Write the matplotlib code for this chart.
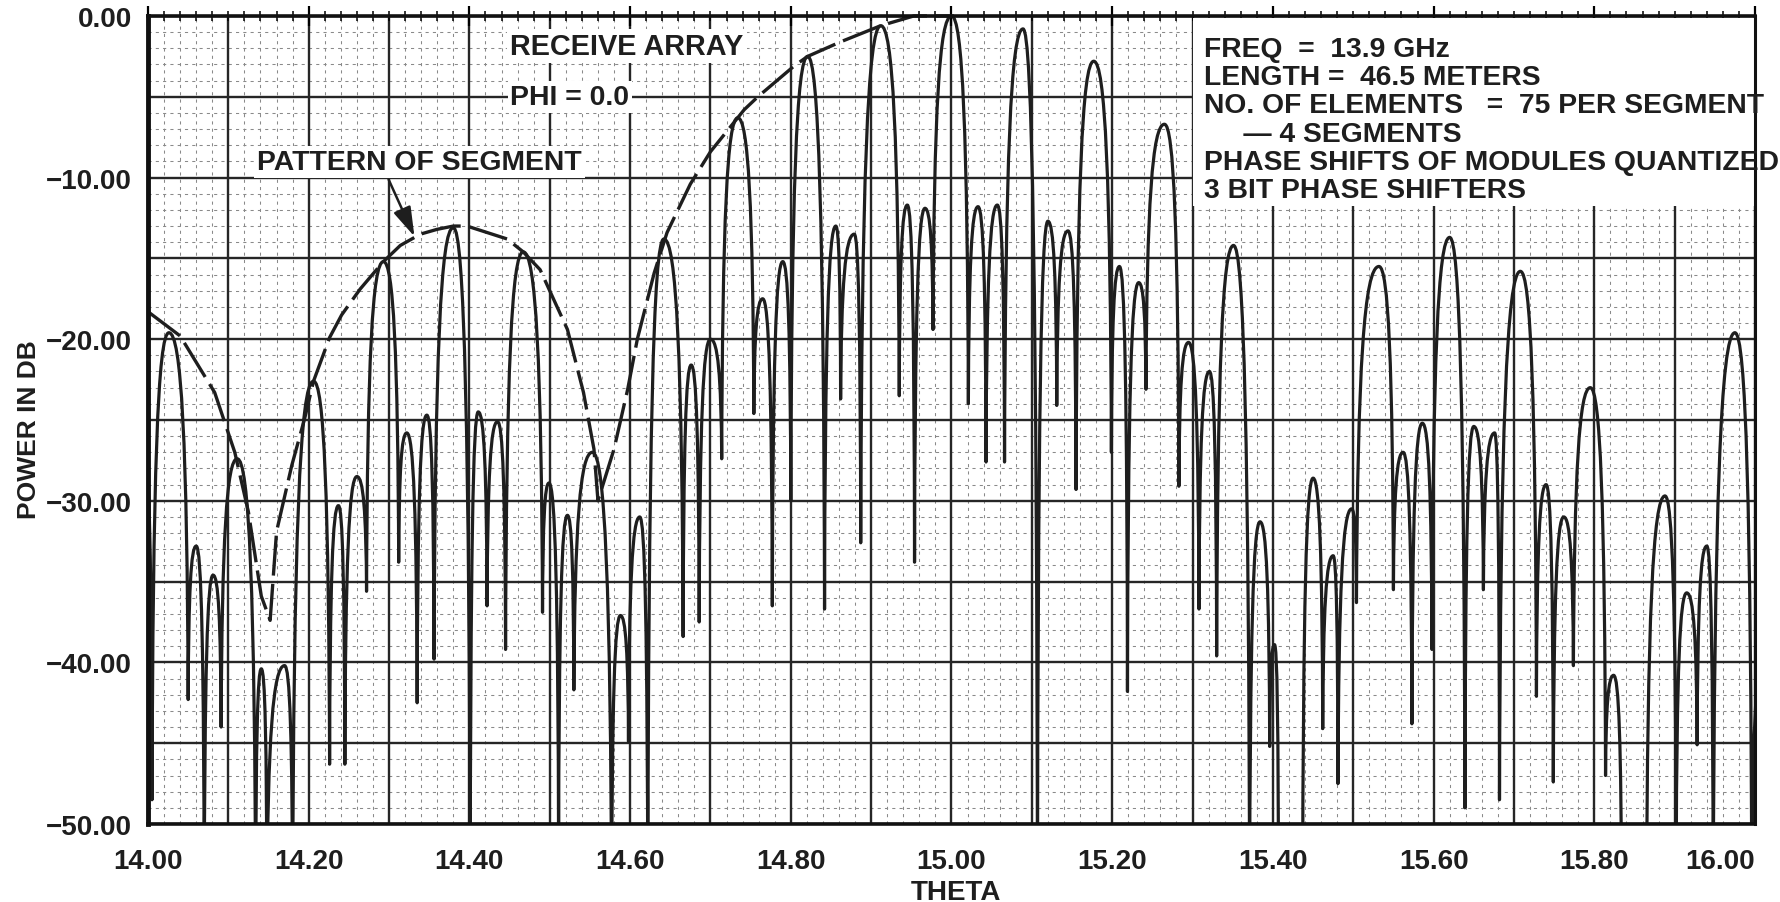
import numpy as np
import matplotlib
matplotlib.use('Agg')
import matplotlib.pyplot as plt
from matplotlib.path import Path
from matplotlib.patches import PathPatch, Rectangle
from matplotlib.ticker import FuncFormatter, MultipleLocator

plt.rcParams['font.family'] = ['Liberation Sans', 'DejaVu Sans']

# lobe peaks and nulls (alternating max / min), theta in deg, power in dB
lobe_theta = [13.995, 14.005, 14.026, 14.050, 14.060, 14.070, 14.081, 14.091,
              14.111, 14.134, 14.141, 14.148, 14.170, 14.180,
              14.206, 14.226, 14.237, 14.245, 14.260, 14.272,
              14.293, 14.312, 14.322, 14.335, 14.347, 14.356,
              14.380, 14.401, 14.411, 14.422, 14.435, 14.445,
              14.467, 14.491, 14.499, 14.511, 14.522, 14.530,
              14.553, 14.577, 14.588, 14.598, 14.612, 14.622,
              14.642, 14.666, 14.676, 14.686, 14.700, 14.714,
              14.734, 14.754, 14.765, 14.777, 14.790, 14.800,
              14.821, 14.842, 14.856, 14.862, 14.879, 14.887,
              14.912, 14.935, 14.945, 14.954, 14.967, 14.977,
              15.000, 15.021, 15.033, 15.043, 15.057, 15.066,
              15.089, 15.107, 15.120, 15.131, 15.145, 15.155,
              15.177, 15.199, 15.209, 15.219, 15.233, 15.242,
              15.265, 15.283, 15.295, 15.308, 15.321, 15.330,
              15.351, 15.371, 15.384, 15.396, 15.402, 15.407, 15.421, 15.437,
              15.450, 15.462, 15.475, 15.481, 15.498, 15.504,
              15.532, 15.550, 15.562, 15.573, 15.586, 15.598,
              15.620, 15.639, 15.650, 15.662, 15.676, 15.682,
              15.708, 15.728, 15.740, 15.749, 15.762, 15.774,
              15.795, 15.814, 15.824, 15.834, 15.850, 15.865,
              15.888, 15.902, 15.915, 15.928, 15.940, 15.948,
              15.975, 15.996, 16.010]
lobe_db = [-27.0, -48.5, -19.6, -42.3, -32.8, -55.0, -34.6, -44.0,
           -27.4, -55.0, -40.4, -55.0, -40.2, -55.0,
           -22.6, -46.3, -30.3, -46.3, -28.5, -35.6,
           -15.2, -33.8, -25.8, -42.5, -24.7, -39.8,
           -13.1, -55.0, -24.5, -36.5, -25.1, -39.2,
           -14.6, -36.9, -28.9, -52.0, -30.9, -41.7,
           -27.0, -55.0, -37.1, -44.9, -31.0, -55.0,
           -13.8, -38.4, -21.6, -37.5, -20.0, -27.4,
           -6.3, -24.6, -17.5, -36.5, -15.2, -30.0,
           -2.5, -36.7, -13.0, -23.7, -13.5, -32.6,
           -0.6, -23.5, -11.7, -33.8, -11.9, -19.4,
           0.0, -24.0, -11.8, -27.6, -11.7, -27.6,
           -0.8, -55.0, -12.7, -24.1, -13.3, -29.3,
           -2.8, -27.0, -15.5, -41.8, -16.5, -23.1,
           -6.7, -29.1, -20.2, -36.7, -22.0, -39.6,
           -14.2, -55.0, -31.3, -45.2, -38.9, -55.0, -53.0, -55.0,
           -28.6, -44.1, -33.4, -47.5, -30.5, -36.3,
           -15.5, -35.5, -27.0, -43.8, -25.2, -39.2,
           -13.7, -49.0, -25.4, -35.5, -25.8, -48.5,
           -15.8, -42.1, -29.0, -47.4, -31.0, -40.2,
           -23.0, -47.0, -40.8, -55.0, -53.0, -55.0,
           -29.7, -52.0, -35.7, -45.1, -32.8, -55.0,
           -19.6, -55.0, -40.0]

# dashed "pattern of segment" curve
seg_theta = [14.000, 14.040, 14.083, 14.108, 14.125, 14.141, 14.152, 14.160, 14.179,
             14.195, 14.206, 14.226, 14.241, 14.264, 14.293, 14.314, 14.339, 14.360,
             14.380, 14.397, 14.422, 14.447, 14.467, 14.488, 14.522, 14.542, 14.555,
             14.560, 14.580, 14.597, 14.609, 14.630, 14.646, 14.675, 14.700, 14.742,
             14.759, 14.804, 14.821, 14.862, 14.912, 14.953, 15.003]
seg_db = [-18.3, -19.8, -23.3, -27.0, -30.7, -35.9, -37.4, -31.9, -27.8,
          -24.9, -22.6, -19.9, -18.5, -16.9, -15.2, -14.2, -13.5, -13.2,
          -13.0, -13.0, -13.4, -13.8, -14.6, -15.7, -19.4, -23.3, -26.8,
          -30.0, -26.8, -23.1, -20.0, -15.9, -13.4, -10.4, -8.4, -5.8,
          -5.0, -3.1, -2.5, -1.6, -0.6, 0.0, 0.0]

x_ticks = [14.0, 14.2, 14.4, 14.6, 14.8, 15.0, 15.2, 15.4, 15.6, 15.8, 16.0]
y_ticks = [0, -10, -20, -30, -40, -50]

info_lines = ["FREQ  =  13.9 GHz",
              "LENGTH =  46.5 METERS",
              "NO. OF ELEMENTS   =  75 PER SEGMENT",
              "     \u2014 4 SEGMENTS",
              "PHASE SHIFTS OF MODULES QUANTIZED",
              "3 BIT PHASE SHIFTERS"]

ink = '#1e1e1e'

fig = plt.figure(figsize=(17.81, 9.03), dpi=100)
ax = fig.add_axes([0.0831, 0.0864, 0.9023, 0.8948])
ax.set_xlim(14.0, 16.0)
ax.set_ylim(-50, 0)

# graph paper
ax.vlines(np.arange(14.0, 16.001, 0.02), -50, 0, colors='#8a8a8a', lw=0.75,
          linestyles=(0, (3, 4)), zorder=1)
ax.hlines(np.arange(-50, 0.01, 1.0), 14.0, 16.0, colors='#8a8a8a', lw=0.75,
          linestyles=(0, (3, 4)), zorder=1)
ax.vlines(np.arange(14.0, 16.001, 0.1), -50, 0, colors='#262626', lw=1.7, zorder=1.5)
ax.hlines(np.arange(-50, 0.01, 5.0), 14.0, 16.0, colors='#262626', lw=1.7, zorder=1.5)

# white box behind the parameter block
ax.add_patch(Rectangle((15.30, -11.75), 0.75, 11.6, facecolor='white',
                       edgecolor='none', zorder=2))

# measured pattern, drawn as rounded lobes between the read peaks and nulls
verts = [(lobe_theta[0], lobe_db[0])]
codes = [Path.MOVETO]
for i in range(len(lobe_theta) - 1):
    x0, y0 = lobe_theta[i], lobe_db[i]
    x1, y1 = lobe_theta[i + 1], lobe_db[i + 1]
    dx = x1 - x0
    if y1 > y0:
        c1 = (x0 + 0.05 * dx, y0 + 0.7 * (y1 - y0))
        c2 = (x0 + 0.35 * dx, y1)
    else:
        c1 = (x1 - 0.35 * dx, y0)
        c2 = (x1 - 0.05 * dx, y1 + 0.7 * (y0 - y1))
    verts += [c1, c2, (x1, y1)]
    codes += [Path.CURVE4] * 3
ax.add_patch(PathPatch(Path(verts, codes), fill=False, edgecolor=ink, lw=2.3,
                       joinstyle='round', capstyle='round', zorder=3))

ax.plot(seg_theta, seg_db, color=ink, lw=2.4, linestyle=(0, (12, 2.5)),
        zorder=3.2, clip_on=False)

# annotations
tb = dict(facecolor='white', edgecolor='none', pad=2)
ax.text(14.451, -2.35, 'RECEIVE ARRAY', fontsize=20.8, fontweight='bold', color=ink,
        va='baseline', ha='left', bbox=tb, zorder=5)
ax.text(14.451, -5.45, 'PHI = 0.0', fontsize=20.5, fontweight='bold', color=ink,
        va='baseline', ha='left', bbox=tb, zorder=5)
ax.text(14.136, -9.47, 'PATTERN OF SEGMENT', fontsize=20.4, fontweight='bold', color=ink,
        va='baseline', ha='left', bbox=tb, zorder=5)
ax.annotate('', xy=(14.333, -13.8), xytext=(14.298, -9.96),
            arrowprops=dict(arrowstyle='-|>,head_length=0.9,head_width=0.28',
                            color=ink, lw=1.8, mutation_scale=20), zorder=5)

info_base = [-2.45, -4.21, -5.96, -7.72, -9.47, -11.22]
for line, yb in zip(info_lines, info_base):
    ax.text(15.3147, yb, line, fontsize=20.3, fontweight='bold', color=ink,
            va='baseline', ha='left', zorder=5, clip_on=False)

# axes styling
for side, w in [('left', 3.5), ('top', 2.6), ('bottom', 2.6), ('right', 2.2)]:
    ax.spines[side].set_linewidth(w)
    ax.spines[side].set_color('#111111')
    ax.spines[side].set_zorder(4)

ax.set_xticks(x_ticks)
ax.set_yticks(y_ticks)
ax.xaxis.set_major_formatter(FuncFormatter(lambda v, p: '%.2f' % v))
ax.yaxis.set_major_formatter(FuncFormatter(
    lambda v, p: ('\u2212%.2f' % abs(v)) if v < 0 else '%.2f' % abs(v)))
ax.xaxis.set_minor_locator(MultipleLocator(0.02))
ax.tick_params(axis='x', which='major', bottom=False, top=True, direction='inout',
               length=14, width=1.6, labelsize=20, pad=10, labelcolor=ink)
ax.tick_params(axis='x', which='minor', bottom=False, top=True, direction='inout',
               length=7, width=1.1)
ax.tick_params(axis='y', which='both', left=False, right=False, labelsize=20,
               pad=8, labelcolor=ink)
for lab in ax.get_xticklabels() + ax.get_yticklabels():
    lab.set_fontweight('bold')
ax.get_xticklabels()[-1].set_horizontalalignment('right')

ax.set_xlabel('THETA', fontsize=20, fontweight='bold', color=ink)
ax.xaxis.set_label_coords(0.503, -0.068)
ax.set_ylabel('POWER IN DB', fontsize=19, fontweight='bold', color=ink)
ax.yaxis.set_label_coords(-0.0665, 0.489)

fig.savefig('out.png', dpi=100, facecolor='white')
